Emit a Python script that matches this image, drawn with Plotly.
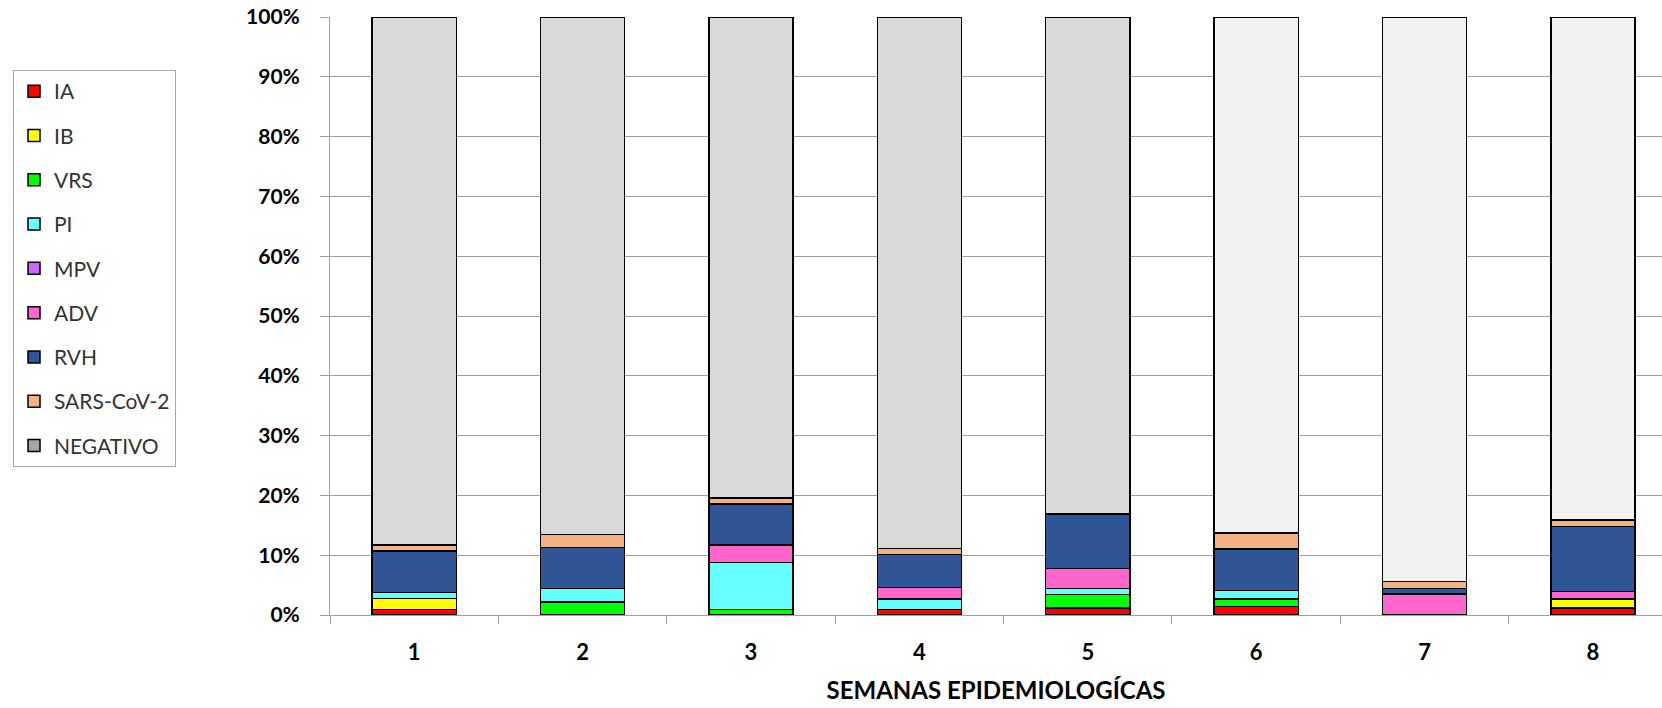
import plotly.graph_objects as go

weeks = ["1", "2", "3", "4", "5", "6", "7", "8"]
IA = [0.9, 0, 0, 0.9, 1.2, 1.4, 0, 1.2]
IB = [1.9, 0, 0, 0, 0, 0, 0, 1.5]
VRS = [0, 2.2, 0.9, 0, 2.2, 1.3, 0, 0]
PI = [1.0, 2.2, 7.9, 1.8, 1.0, 1.4, 0, 0]
MPV = [0, 0, 0, 0, 0, 0, 0, 0]
ADV = [0, 0, 2.9, 1.9, 3.4, 0, 3.5, 1.2]
RVH = [6.9, 6.9, 6.9, 5.5, 9.1, 6.9, 0.9, 10.9]
SARS = [1.0, 2.2, 1.0, 1.0, 0, 2.7, 1.2, 1.1]
NEGATIVO = [88.3, 86.5, 80.4, 88.9, 83.1, 86.3, 94.4, 84.1]

series = [
    ("IA", IA, "#ff0000"),
    ("IB", IB, "#ffff00"),
    ("VRS", VRS, "#00ff00"),
    ("PI", PI, "#66ffff"),
    ("MPV", MPV, "#cc66ff"),
    ("ADV", ADV, "#ff66cc"),
    ("RVH", RVH, "#2f5597"),
    ("SARS-CoV-2", SARS, "#f4b183"),
]
neg_colors = ["#d9d9d9"] * 5 + ["#f2f2f2"] * 3

fig = go.Figure()
for name, vals, col in series:
    fig.add_trace(go.Bar(
        x=weeks, y=vals, name=name, legendgroup=name,
        marker=dict(color=col, line=dict(color="#000000", width=1.5)),
        width=0.5,
    ))
fig.add_trace(go.Bar(
    x=weeks, y=NEGATIVO, name="NEGATIVO", showlegend=False,
    marker=dict(color=neg_colors, line=dict(color="#000000", width=1.5)),
    width=0.5,
))
fig.add_trace(go.Bar(
    x=[None], y=[None], name="NEGATIVO", legendgroup="NEGATIVO",
    marker=dict(color="#a6a6a6", line=dict(color="#000000", width=1.5)),
))

font_family = "Lato, 'Open Sans', sans-serif"

fig.update_layout(
    width=1662, height=708,
    barmode="stack",
    plot_bgcolor="#ffffff", paper_bgcolor="#ffffff",
    margin=dict(l=330, r=0, t=17, b=93, autoexpand=False),
    font=dict(family=font_family, color="#000000"),
    showlegend=True,
    legend=dict(
        xref="container", yref="container",
        x=13 / 1662, y=1 - 70 / 708, xanchor="left", yanchor="top",
        bgcolor="#ffffff", bordercolor="#a6a6a6", borderwidth=1,
        font=dict(size=21, color="#333333", family=font_family),
        traceorder="grouped", tracegroupgap=14,
        maxheight=600,
    ),
    xaxis=dict(
        type="category",
        range=[-0.5, 7.41],
        tickson="boundaries",
        ticks="outside", ticklen=8, tickcolor="#a0a0a0",
        showgrid=False, showline=True, linecolor="#a0a0a0", linewidth=1,
        tickfont=dict(size=22, family=font_family, weight="bold"),
        ticklabelstandoff=18,
        title=dict(text="SEMANAS EPIDEMIOLOGÍCAS",
                   font=dict(size=24, family=font_family, weight="bold"),
                   standoff=17),
        automargin=False,
    ),
    yaxis=dict(
        range=[0, 100], dtick=10, ticksuffix="%",
        ticks="outside", ticklen=9, tickcolor="#a0a0a0",
        showgrid=True, gridcolor="#a0a0a0", gridwidth=1,
        showline=True, linecolor="#a0a0a0", linewidth=1,
        zeroline=False,
        tickfont=dict(size=21, family=font_family, weight="bold"),
        ticklabelstandoff=16,
        automargin=False,
    ),
)

fig.write_html("out.html")
